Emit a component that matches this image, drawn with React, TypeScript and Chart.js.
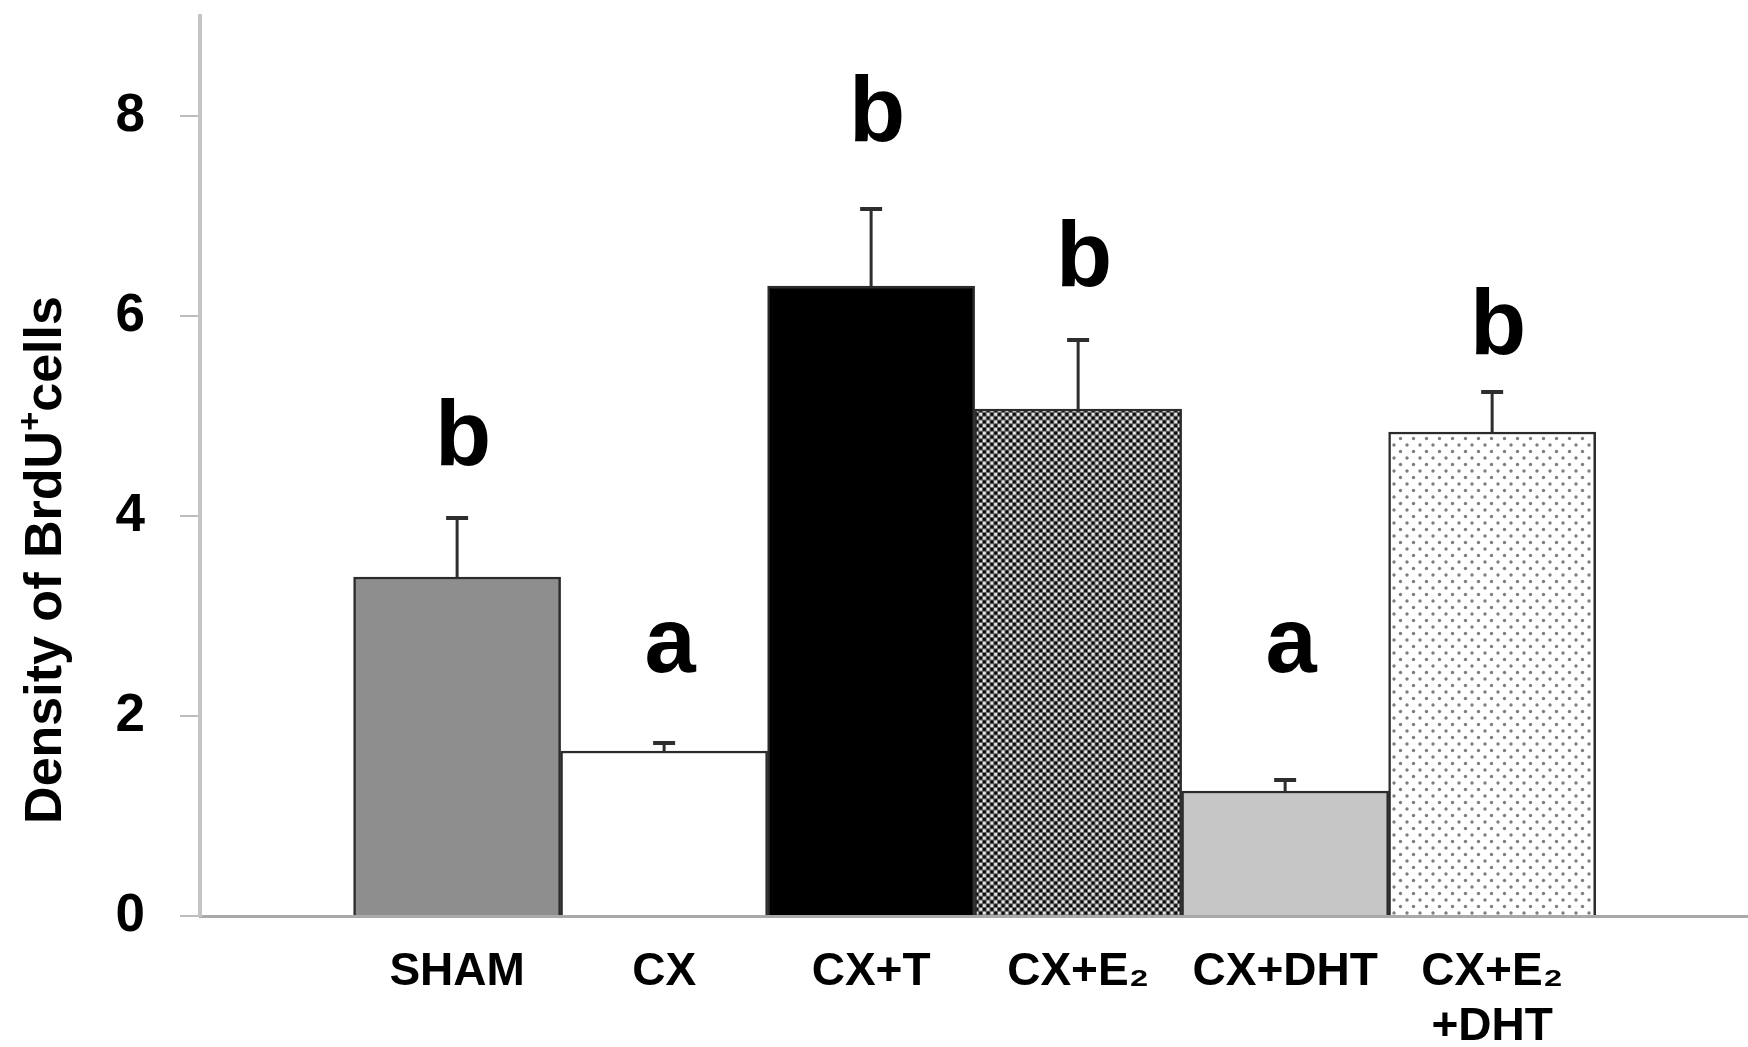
import React, { useEffect, useRef } from "react";
import { Chart, registerables } from "chart.js";

Chart.register(...registerables);

const categories: (string | string[])[] = ["SHAM", "CX", "CX+T", "CX+E₂", "CX+DHT", ["CX+E₂", "+DHT"]];
const means = [3.39, 1.65, 6.3, 5.07, 1.25, 4.84];
const sem = [0.59, 0.08, 0.77, 0.69, 0.11, 0.4];
const letters = ["b", "a", "b", "b", "a", "b"];
const letterY = [4.51, 2.44, 7.75, 6.3, 2.44, 5.62];
const yTicks = [0, 2, 4, 6, 8];
const yTitleParts = ["Density of BrdU", "+", "cells"];

function makeChecker(): CanvasPattern | string {
  const c = document.createElement("canvas");
  c.width = 15;
  c.height = 15;
  const g = c.getContext("2d");
  if (!g) return "#666";
  g.fillStyle = "#666666";
  g.fillRect(0, 0, 15, 15);
  const s = 3.75;
  for (let i = 0; i < 4; i++) {
    for (let j = 0; j < 4; j++) {
      g.fillStyle = (i + j) % 2 === 0 ? "#0a0a0a" : "#e6e6e6";
      g.fillRect(i * s + 0.5, j * s + 0.5, s - 1, s - 1);
    }
  }
  const ctx = document.createElement("canvas").getContext("2d");
  return ctx ? (ctx.createPattern(c, "repeat") as CanvasPattern) : "#666";
}

function makeDots(): CanvasPattern | string {
  const c = document.createElement("canvas");
  c.width = 13;
  c.height = 13;
  const g = c.getContext("2d");
  if (!g) return "#eee";
  g.fillStyle = "#ffffff";
  g.fillRect(0, 0, 13, 13);
  g.fillStyle = "#7e7e7e";
  const dot = (x: number, y: number) => {
    g.beginPath();
    g.arc(x, y, 1.7, 0, Math.PI * 2);
    g.fill();
  };
  dot(3, 3);
  dot(9.5, 9.5);
  const ctx = document.createElement("canvas").getContext("2d");
  return ctx ? (ctx.createPattern(c, "repeat") as CanvasPattern) : "#eee";
}

export default function App() {
  const ref = useRef<HTMLCanvasElement | null>(null);

  useEffect(() => {
    if (!ref.current) return;
    const fills = ["#8e8e8e", "#ffffff", "#000000", makeChecker(), "#c6c6c6", makeDots()];

    const errorPlugin = {
      id: "errs",
      afterDatasetsDraw(chart: any) {
        const ctx = chart.ctx;
        const meta = chart.getDatasetMeta(0);
        const ys = chart.scales.y;
        ctx.save();
        ctx.strokeStyle = "#2e2e2e";
        meta.data.forEach((el: any, i: number) => {
          const top = ys.getPixelForValue(means[i] + sem[i]);
          ctx.lineWidth = 3;
          ctx.beginPath();
          ctx.moveTo(el.x, el.y);
          ctx.lineTo(el.x, top);
          ctx.stroke();
          ctx.lineWidth = 4;
          ctx.beginPath();
          ctx.moveTo(el.x - 11, top);
          ctx.lineTo(el.x + 11, top);
          ctx.stroke();
        });
        ctx.restore();
      },
      afterDraw(chart: any) {
        const ctx = chart.ctx;
        const meta = chart.getDatasetMeta(0);
        const ys = chart.scales.y;
        ctx.save();
        ctx.fillStyle = "#000";
        ctx.font = "bold 92px 'Liberation Sans', Arial, sans-serif";
        ctx.textAlign = "center";
        ctx.textBaseline = "alphabetic";
        meta.data.forEach((el: any, i: number) => {
          ctx.fillText(letters[i], el.x + 6, ys.getPixelForValue(letterY[i]));
        });
        // y-axis title
        const cx = ys.left + 47;
        const cy = ys.getPixelForValue(3.56);
        ctx.translate(cx, cy);
        ctx.rotate(-Math.PI / 2);
        const big = "bold 52px 'Liberation Sans', Arial, sans-serif";
        const small = "bold 33px 'Liberation Sans', Arial, sans-serif";
        ctx.font = big;
        const w0 = ctx.measureText(yTitleParts[0]).width;
        const w2 = ctx.measureText(yTitleParts[2]).width;
        ctx.font = small;
        const w1 = ctx.measureText(yTitleParts[1]).width;
        const total = w0 + w1 + w2;
        let x = -total / 2;
        ctx.textAlign = "left";
        ctx.textBaseline = "middle";
        ctx.font = big;
        ctx.fillText(yTitleParts[0], x, 0);
        x += w0;
        ctx.font = small;
        ctx.fillText(yTitleParts[1], x, -15);
        x += w1;
        ctx.font = big;
        ctx.fillText(yTitleParts[2], x, 0);
        ctx.restore();
      },
    };

    const chart = new Chart(ref.current, {
      type: "bar",
      data: {
        datasets: [
          {
            data: means.map((v, i) => ({ x: i, y: v })),
            backgroundColor: fills as any,
            borderColor: "#2b2b2b",
            borderWidth: 2.5,
            barPercentage: 1,
            categoryPercentage: 1,
          },
        ],
      },
      options: {
        responsive: false,
        animation: false,
        layout: { padding: { top: 16, right: 0, left: 0, bottom: 0 } },
        plugins: { legend: { display: false }, tooltip: { enabled: false } },
        scales: {
          x: {
            type: "linear",
            offset: false,
            min: -1.242,
            max: 6.236,
            afterFit: (s: any) => {
              s.height = 131;
              s.paddingLeft = 0;
              s.paddingRight = 0;
            },
            afterBuildTicks: (s: any) => {
              s.ticks = categories.map((_, i) => ({ value: i }));
            },
            grid: { display: false, drawTicks: false },
            border: { display: true, color: "#a9a9a9", width: 3 },
            ticks: {
              autoSkip: false,
              maxRotation: 0,
              minRotation: 0,
              padding: 29,
              color: "#000",
              font: { family: "'Liberation Sans', Arial, sans-serif", size: 46, weight: "bold" },
              callback: (v: any) => {
                const i = Math.round(Number(v));
                return categories[i] ?? "";
              },
            },
          },
          y: {
            min: 0,
            max: 9,
            afterFit: (s: any) => {
              s.width = 200;
              s.paddingTop = 0;
              s.paddingBottom = 0;
            },
            afterBuildTicks: (s: any) => {
              s.ticks = yTicks.map((v) => ({ value: v }));
            },
            grid: {
              drawOnChartArea: false,
              drawTicks: true,
              tickLength: 20,
              color: "#bdbdbd",
              lineWidth: 2,
            },
            border: { display: true, color: "#c4c4c4", width: 4 },
            ticks: {
              padding: 35,
              color: "#000",
              font: { family: "'Liberation Sans', Arial, sans-serif", size: 53, weight: "bold" },
            },
          },
        },
      },
      plugins: [errorPlugin],
    });
    return () => chart.destroy();
  }, []);

  return (
    <div style={{ position: "fixed", left: 0, top: 0, width: 1748, height: 1047, background: "#fff" }}>
      <canvas ref={ref} width={1748} height={1047} style={{ display: "block" }} />
    </div>
  );
}
